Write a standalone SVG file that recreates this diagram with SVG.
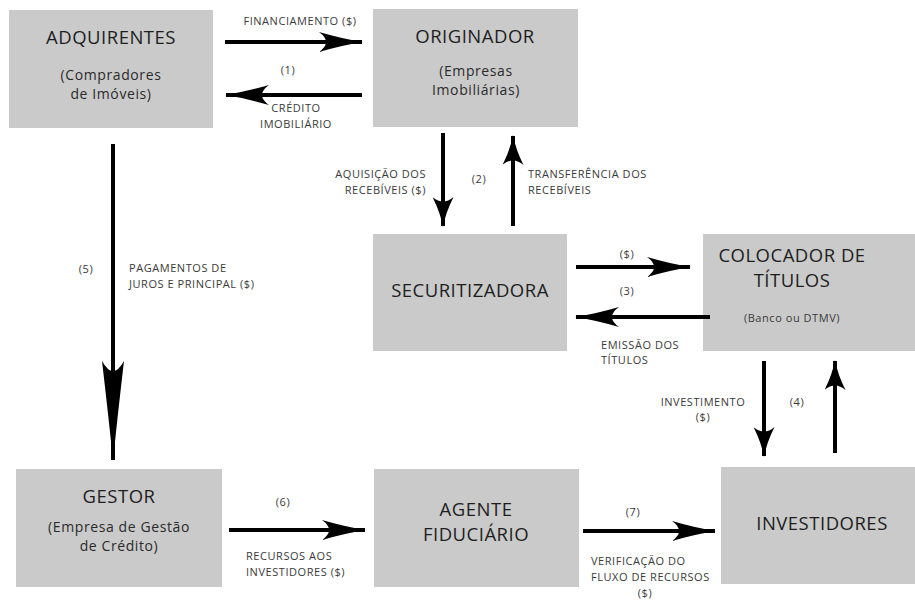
<svg xmlns="http://www.w3.org/2000/svg" width="915" height="601" viewBox="0 0 915 601">
<style>
.box{fill:#cacaca}
.t{font-family:"Open Sans","DejaVu Sans",sans-serif;font-size:18.5px;letter-spacing:0.5px;fill:#1e1e1e;text-anchor:middle}
.s{font-family:"Open Sans","DejaVu Sans",sans-serif;font-size:14px;letter-spacing:0.6px;fill:#2a2a2a;text-anchor:middle}
.l{font-family:"Open Sans","DejaVu Sans",sans-serif;font-size:11px;letter-spacing:0.55px;fill:#3a3a3a}
.c{text-anchor:middle}
.e{text-anchor:end}
.a{stroke:#000;stroke-width:4;fill:none}
</style>
<defs>
<marker id="h" markerUnits="userSpaceOnUse" viewBox="0 0 44 20" refX="43" refY="10" markerWidth="44" markerHeight="20" orient="auto">
<path d="M0,0 Q24,7 44,10 Q24,13 0,20 Q14,10 0,0 Z" fill="#000"/>
</marker>
<marker id="hv" markerUnits="userSpaceOnUse" viewBox="0 0 30 21" refX="29" refY="10.5" markerWidth="30" markerHeight="21" orient="auto">
<path d="M0,0 Q16,8 30,10.5 Q16,13 0,21 Q9,10.5 0,0 Z" fill="#000"/>
</marker>
<marker id="hb" markerUnits="userSpaceOnUse" viewBox="0 0 100 22" refX="99" refY="11" markerWidth="100" markerHeight="22" orient="auto">
<path d="M0,0 Q60,7 100,11 Q60,15 0,22 Q20,11 0,0 Z" fill="#000"/>
</marker>
</defs>
<g id="adquirentes"><rect class="box" x="9" y="10" width="204" height="118"/><text class="t" x="111" y="44">ADQUIRENTES</text><text class="s" x="111" y="80">(Compradores</text><text class="s" x="111" y="99">de Imóveis)</text></g>
<g id="originador"><rect class="box" x="373" y="9" width="205" height="118"/><text class="t" x="475" y="43">ORIGINADOR</text><text class="s" x="476" y="76">(Empresas</text><text class="s" x="476" y="95">Imobiliárias)</text></g>
<g id="securitizadora"><rect class="box" x="373" y="234" width="194" height="117"/><text class="t" x="470" y="297">SECURITIZADORA</text></g>
<g id="colocador"><rect class="box" x="703" y="234" width="212" height="117"/><text class="t" x="792" y="262">COLOCADOR DE</text><text class="t" x="792" y="287">TÍTULOS</text><text class="l c" x="792" y="322">(Banco ou DTMV)</text></g>
<g id="gestor"><rect class="box" x="16" y="469" width="206" height="118"/><text class="t" x="119" y="503">GESTOR</text><text class="s" x="119" y="532">(Empresa de Gestão</text><text class="s" x="119" y="551">de Crédito)</text></g>
<g id="agente"><rect class="box" x="374" y="469" width="205" height="118"/><text class="t" x="476" y="516">AGENTE</text><text class="t" x="476" y="541">FIDUCIÁRIO</text></g>
<g id="investidores"><rect class="box" x="721" y="467" width="194" height="117"/><text class="t" x="822" y="530">INVESTIDORES</text></g>
<g id="connectors">
<line class="a" x1="225" y1="42" x2="362" y2="42" marker-end="url(#h)"/>
<line class="a" x1="362" y1="95" x2="226" y2="95" marker-end="url(#h)"/>
<line class="a" x1="443" y1="133" x2="443" y2="226" marker-end="url(#hv)"/>
<line class="a" x1="513" y1="226" x2="513" y2="136" marker-end="url(#hv)"/>
<line class="a" x1="113" y1="144" x2="113" y2="460" marker-end="url(#hb)"/>
<line class="a" x1="576" y1="267" x2="690" y2="267" marker-end="url(#h)"/>
<line class="a" x1="710" y1="317" x2="576" y2="317" marker-end="url(#h)"/>
<line class="a" x1="764" y1="361" x2="764" y2="456" marker-end="url(#hv)"/>
<line class="a" x1="835" y1="453" x2="835" y2="361" marker-end="url(#hv)"/>
<line class="a" x1="229" y1="530" x2="365" y2="530" marker-end="url(#h)"/>
<line class="a" x1="583" y1="531" x2="715" y2="531" marker-end="url(#h)"/>
</g>
<g id="labels">
<text class="l c" x="300" y="25">FINANCIAMENTO  ($)</text>
<text class="l c" x="288" y="74">(1)</text>
<text class="l c" x="296" y="112">CRÉDITO</text>
<text class="l c" x="296" y="128">IMOBILIÁRIO</text>
<text class="l e" x="426" y="178">AQUISIÇÃO DOS</text>
<text class="l e" x="426" y="194">RECEBÍVEIS ($)</text>
<text class="l c" x="479" y="183">(2)</text>
<text class="l" x="528" y="178">TRANSFERÊNCIA DOS</text>
<text class="l" x="528" y="194">RECEBÍVEIS</text>
<text class="l c" x="86" y="273">(5)</text>
<text class="l" x="129" y="272">PAGAMENTOS DE</text>
<text class="l" x="129" y="288">JUROS E PRINCIPAL ($)</text>
<text class="l c" x="627" y="258">($)</text>
<text class="l c" x="627" y="295">(3)</text>
<text class="l" x="601" y="349">EMISSÃO DOS</text>
<text class="l" x="601" y="364">TÍTULOS</text>
<text class="l c" x="703" y="406">INVESTIMENTO</text>
<text class="l c" x="703" y="421">($)</text>
<text class="l c" x="797" y="406">(4)</text>
<text class="l c" x="283" y="506">(6)</text>
<text class="l" x="246" y="560">RECURSOS AOS</text>
<text class="l" x="246" y="576">INVESTIDORES ($)</text>
<text class="l c" x="633" y="516">(7)</text>
<text class="l" x="591" y="565">VERIFICAÇÃO DO</text>
<text class="l" x="591" y="581">FLUXO DE RECURSOS</text>
<text class="l c" x="645" y="597">($)</text>
</g>
</svg>
